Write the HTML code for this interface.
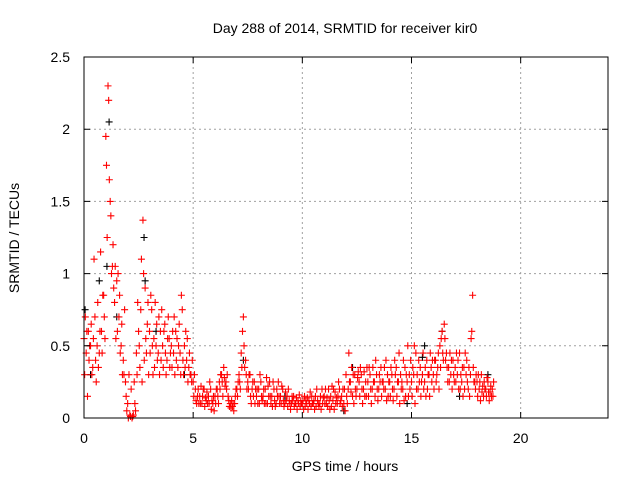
<!DOCTYPE html>
<html><head><meta charset="utf-8"><style>
html,body{margin:0;padding:0;background:#fff;}
svg{display:block;font-family:"Liberation Sans",sans-serif;}
</style></head><body>
<svg id="chart" width="640" height="480">
<text x="345" y="33" text-anchor="middle" font-size="14">Day 288 of 2014, SRMTID for receiver kir0</text>
<text x="345" y="471" text-anchor="middle" font-size="14">GPS time / hours</text>
<text transform="translate(19,238) rotate(-90)" text-anchor="middle" font-size="14">SRMTID / TECUs</text>
<g id="grid"></g><g id="blk"></g><g id="red"></g><g id="axes"></g>
</svg>
<script>
const xTicks=[0,5,10,15,20];
const yTicks=[0,0.5,1,1.5,2,2.5];
const yTickLabels=["0","0.5","1","1.5","2","2.5"];
const times=[0,0.1,0.2,0.3,0.4,0.5,0.6,0.7,0.8,0.9,1,1.1,1.2,1.3,1.4,1.5,1.6,1.7,1.8,1.9,2,2.1,2.2,2.3,2.4,2.5,2.6,2.7,2.8,2.9,3,3.1,3.2,3.3,3.4,3.5,3.6,3.7,3.8,3.9,4,4.1,4.2,4.3,4.4,4.5,4.6,4.7,4.8,4.9,5,5.1,5.2,5.3,5.4,5.5,5.6,5.7,5.8,5.9,6,6.1,6.2,6.3,6.4,6.5,6.6,6.7,6.8,6.9,7,7.1,7.2,7.3,7.4,7.5,7.6,7.7,7.8,7.9,8,8.1,8.2,8.3,8.4,8.5,8.6,8.7,8.8,8.9,9,9.1,9.2,9.3,9.4,9.5,9.6,9.7,9.8,9.9,10,10.1,10.2,10.3,10.4,10.5,10.6,10.7,10.8,10.9,11,11.1,11.2,11.3,11.4,11.5,11.6,11.7,11.8,11.9,12,12.1,12.2,12.3,12.4,12.5,12.6,12.7,12.8,12.9,13,13.1,13.2,13.3,13.4,13.5,13.6,13.7,13.8,13.9,14,14.1,14.2,14.3,14.4,14.5,14.6,14.7,14.8,14.9,15,15.1,15.2,15.3,15.4,15.5,15.6,15.7,15.8,15.9,16,16.1,16.2,16.3,16.4,16.5,16.6,16.7,16.8,16.9,17,17.1,17.2,17.3,17.4,17.5,17.6,17.7,17.8,17.9,18,18.1,18.2,18.3,18.4,18.5,18.6,18.7];
const valsA=[0.55,0.45,0.6,0.5,0.35,0.7,0.5,0.45,0.6,0.85,
1.95,2.3,1.5,1.05,0.8,0.95,0.7,0.5,0.4,0.25,
0.1,0.02,0.0,0.25,0.45,0.6,0.75,1.37,0.9,0.65,
0.6,0.75,0.55,0.5,0.45,0.6,0.5,0.65,0.4,0.55,
0.5,0.45,0.6,0.35,0.45,0.75,0.5,0.4,0.35,0.3,
0.25,0.2,0.15,0.15,0.1,0.2,0.12,0.15,0.2,0.1,
0.15,0.2,0.25,0.3,0.35,0.25,0.15,0.1,0.08,0.1,
0.2,0.3,0.45,0.7,0.4,0.25,0.3,0.2,0.25,0.15,
0.2,0.25,0.15,0.2,0.1,0.25,0.15,0.2,0.1,0.25,
0.15,0.2,0.1,0.15,0.12,0.1,0.15,0.1,0.12,0.08,
0.1,0.15,0.1,0.12,0.08,0.1,0.15,0.12,0.1,0.2,
0.15,0.1,0.2,0.15,0.12,0.18,0.1,0.2,0.15,0.1,
0.3,0.2,0.25,0.15,0.3,0.2,0.25,0.3,0.2,0.25,
0.25,0.3,0.2,0.25,0.3,0.2,0.35,0.25,0.2,0.3,
0.25,0.3,0.2,0.35,0.25,0.3,0.2,0.35,0.25,0.3,
0.25,0.3,0.45,0.2,0.35,0.3,0.25,0.4,0.3,0.35,
0.3,0.4,0.35,0.5,0.6,0.65,0.45,0.35,0.3,0.4,
0.35,0.3,0.45,0.25,0.35,0.3,0.2,0.3,0.85,0.25,
0.25,0.2,0.3,0.15,0.2,0.25,0.18,0.2];
const valsB=[0.3,0.6,0.4,0.65,0.55,0.4,0.8,0.6,0.45,0.7,
1.75,2.2,1.4,1.2,1.05,0.6,0.85,0.65,0.3,0.15,
0.0,0.01,0.01,0.1,0.3,0.5,1.1,1.0,0.55,0.8,
0.45,0.5,0.35,0.65,0.7,0.4,0.35,0.45,0.55,0.35,
0.35,0.7,0.4,0.5,0.3,0.4,0.35,0.55,0.45,0.25,
0.15,0.12,0.2,0.1,0.15,0.08,0.18,0.1,0.06,0.15,
0.1,0.15,0.2,0.25,0.28,0.2,0.12,0.07,0.1,0.15,
0.15,0.25,0.35,0.5,0.3,0.2,0.15,0.25,0.1,0.2,
0.1,0.15,0.2,0.1,0.22,0.15,0.08,0.12,0.2,0.15,
0.1,0.12,0.18,0.08,0.1,0.15,0.08,0.14,0.1,0.12,
0.12,0.08,0.14,0.1,0.15,0.12,0.08,0.1,0.15,0.1,
0.1,0.14,0.12,0.08,0.2,0.1,0.15,0.1,0.08,0.2,
0.15,0.45,0.18,0.3,0.2,0.28,0.15,0.2,0.32,0.15,
0.15,0.2,0.35,0.15,0.2,0.3,0.15,0.2,0.4,0.15,
0.15,0.2,0.4,0.15,0.45,0.2,0.4,0.15,0.5,0.2,
0.15,0.5,0.2,0.4,0.15,0.45,0.35,0.2,0.15,0.25,
0.2,0.25,0.45,0.35,0.45,0.55,0.35,0.25,0.4,0.3,
0.25,0.4,0.2,0.35,0.2,0.4,0.35,0.55,0.35,0.2,
0.15,0.25,0.18,0.25,0.15,0.18,0.22,0.15];
const valsC=[0.7,0.15,0.5,0.3,1.1,0.25,0.35,1.15,0.85,0.55,
1.25,1.65,1.0,0.9,0.55,1.0,0.45,0.3,0.75,0.05,
0.3,0.2,0.02,0.05,0.8,0.35,0.25,0.4,0.45,0.3,
0.85,0.3,0.8,0.4,0.3,0.75,0.6,0.3,0.7,0.45,
0.6,0.3,0.55,0.65,0.85,0.3,0.6,0.25,0.3,0.4,
0.3,0.1,0.1,0.22,0.2,0.14,0.1,0.25,0.12,0.05,
0.2,0.1,0.3,0.15,0.22,0.3,0.08,0.12,0.05,0.2,
0.25,0.2,0.6,0.35,0.2,0.3,0.1,0.15,0.2,0.1,
0.3,0.12,0.1,0.28,0.15,0.1,0.25,0.08,0.15,0.1,
0.22,0.08,0.12,0.2,0.06,0.12,0.1,0.06,0.16,0.1,
0.06,0.12,0.06,0.18,0.1,0.06,0.2,0.08,0.06,0.14,
0.2,0.08,0.06,0.22,0.06,0.14,0.25,0.12,0.2,0.05,
0.1,0.25,0.35,0.1,0.15,0.32,0.35,0.1,0.15,0.35,
0.35,0.1,0.25,0.4,0.12,0.25,0.25,0.35,0.12,0.25,
0.35,0.12,0.3,0.25,0.1,0.25,0.12,0.3,0.15,0.4,
0.35,0.1,0.3,0.25,0.25,0.2,0.15,0.3,0.45,0.4,
0.4,0.3,0.2,0.55,0.4,0.4,0.25,0.45,0.2,0.25,
0.45,0.2,0.3,0.15,0.45,0.25,0.15,0.6,0.25,0.3,
0.3,0.12,0.22,0.2,0.28,0.12,0.15,0.25];
const blackTimes=[0.05,0.3,0.7,1.05,1.15,1.5,2.75,2.8,3.3,4.6,7.3,9.2,11.9,12.3,14.8,15.5,15.6,16.4,17.2,18.5];
const blackVals=[0.75,0.3,0.95,1.05,2.05,0.7,1.25,0.95,0.6,0.3,0.4,0.15,0.05,0.35,0.1,0.42,0.5,0.6,0.15,0.3];

const L=84,R=608,T=57,B=418;
const xS=v=>L+v/24*(R-L);
const yS=v=>B-v/2.5*(B-T);
const NS='http://www.w3.org/2000/svg';
function mk(tag,attrs,parent){const e=document.createElementNS(NS,tag);for(const k in attrs)e.setAttribute(k,attrs[k]);document.getElementById(parent).appendChild(e);return e;}
xTicks.forEach((t,i)=>{
  const x=xS(t);
  if(t>0){const g=mk('line',{x1:x,x2:x,y1:T,y2:B,stroke:'#a0a0a0','stroke-dasharray':'2,3'},'grid');
  
  }
  const tk=mk('path',{d:`M${x},${B}v-6M${x},${T}v6`,stroke:'#000'},'axes');
  
  
  const lb=mk('text',{x:x,y:443,'text-anchor':'middle','font-size':14},'axes');lb.textContent=String(t);
  
  
});
yTicks.forEach((t,i)=>{
  const y=yS(t);
  if(t>0&&t<2.5){const g=mk('line',{x1:L,x2:R,y1:y,y2:y,stroke:'#a0a0a0','stroke-dasharray':'2,3'},'grid');
  
  }
  const tk=mk('path',{d:`M${L},${y}h6M${R},${y}h-6`,stroke:'#000'},'axes');
  
  
  const lb=mk('text',{x:70,y:y+5,'text-anchor':'end','font-size':14},'axes');lb.textContent=yTickLabels[i];
  
  
});
const fr=mk('rect',{x:L,y:T,width:R-L,height:B-T,fill:'none',stroke:'#000'},'axes');


function plus(t,v,color,grp){
  const x=xS(t),y=yS(v);
  const p=mk('path',{d:`M${x-3.5},${y}h7M${x},${y-3.5}v7`,stroke:color,'stroke-width':1.1,fill:'none'},grp);
  
  
}
blackTimes.forEach((t,i)=>plus(t,blackVals[i],'#000','blk'));
times.forEach((t,i)=>{
  plus(t,valsA[i],'#ff0000','red');
  plus(t+0.03,valsB[i],'#ff0000','red');
  plus(t+0.06,valsC[i],'#ff0000','red');
});
</script>
</body></html>
